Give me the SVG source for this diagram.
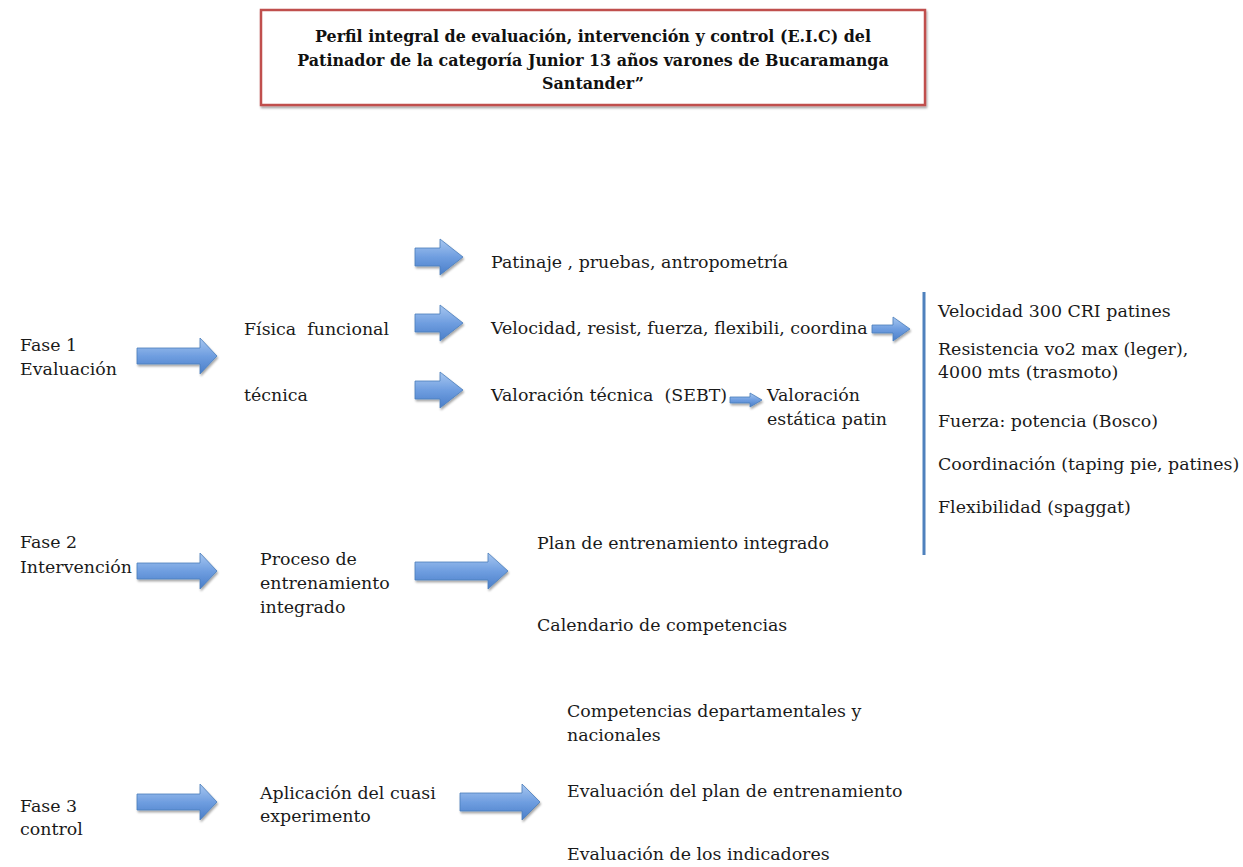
<svg xmlns="http://www.w3.org/2000/svg" width="1243" height="867" viewBox="0 0 1243 867">
<defs>
<linearGradient id="g" x1="0" y1="0" x2="0" y2="1">
<stop offset="0" stop-color="#a8c7f0"/>
<stop offset="0.5" stop-color="#6f9ee0"/>
<stop offset="1" stop-color="#4a7ec9"/>
</linearGradient>
<filter id="sh" x="-20%" y="-30%" width="140%" height="170%">
<feDropShadow dx="1" dy="2" stdDeviation="1.2" flood-color="#000" flood-opacity="0.35"/>
</filter>
<style>
.t{font-family:"DejaVu Serif","Liberation Serif",serif;font-size:17.4px;fill:#1a1a1a;white-space:pre}
.h{font-family:"DejaVu Serif","Liberation Serif",serif;font-size:15.9px;font-weight:bold;fill:#111;text-anchor:middle}
.a{fill:url(#g);stroke:#4a7ebb;stroke-width:0.8;filter:url(#sh)}
</style>
</defs>
<rect width="1243" height="867" fill="#fff"/>
<g id="title">
<rect x="261" y="10" width="664" height="95" fill="#fff" stroke="#c0504d" stroke-width="2.5" filter="url(#sh)"/>
<text class="h" x="593" y="42">Perfil integral de evaluación, intervención y control (E.I.C) del</text>
<text class="h" x="593" y="66">Patinador de la categoría Junior 13 años varones de Bucaramanga</text>
<text class="h" x="593" y="89">Santander”</text>
</g>
<g id="fase1"><text class="t" x="20" y="351">Fase 1</text><text class="t" x="20" y="375">Evaluación</text></g>
<g id="fase2"><text class="t" x="20" y="548">Fase 2</text><text class="t" x="20" y="573">Intervención</text></g>
<g id="fase3"><text class="t" x="20" y="812">Fase 3</text><text class="t" x="20" y="835">control</text></g>
<g id="fisica"><text class="t" x="244" y="335">Física  funcional</text></g>
<g id="tecnica"><text class="t" x="244" y="401">técnica</text></g>
<g id="patinaje"><text class="t" x="491" y="268">Patinaje , pruebas, antropometría</text></g>
<g id="velocidad"><text class="t" x="491" y="334">Velocidad, resist, fuerza, flexibili, coordina</text></g>
<g id="valtec"><text class="t" x="491" y="401">Valoración técnica  (SEBT)</text></g>
<g id="valest"><text class="t" x="767" y="401">Valoración</text><text class="t" x="767" y="425">estática patin</text></g>
<g id="pruebas">
<text class="t" x="938" y="317">Velocidad 300 CRI patines</text>
<text class="t" x="938" y="355">Resistencia vo2 max (leger),</text>
<text class="t" x="938" y="378">4000 mts (trasmoto)</text>
<text class="t" x="938" y="427">Fuerza: potencia (Bosco)</text>
<text class="t" x="938" y="470">Coordinación (taping pie, patines)</text>
<text class="t" x="938" y="513">Flexibilidad (spaggat)</text>
</g>
<g id="proceso"><text class="t" x="260" y="565">Proceso de</text><text class="t" x="260" y="589">entrenamiento</text><text class="t" x="260" y="613">integrado</text></g>
<g id="plan"><text class="t" x="537" y="549">Plan de entrenamiento integrado</text></g>
<g id="calendario"><text class="t" x="537" y="631">Calendario de competencias</text></g>
<g id="aplicacion"><text class="t" x="260" y="799">Aplicación del cuasi</text><text class="t" x="260" y="822">experimento</text></g>
<g id="competencias"><text class="t" x="567" y="717">Competencias departamentales y</text><text class="t" x="567" y="741">nacionales</text></g>
<g id="evalplan"><text class="t" x="567" y="797">Evaluación del plan de entrenamiento</text></g>
<g id="evalind"><text class="t" x="567" y="860">Evaluación de los indicadores</text></g>
<g id="connectors">
<polygon class="a" points="137,348 200,348 200,338 217,356 200,374 200,364 137,364"/>
<polygon class="a" points="137,563 200,563 200,553 217,571 200,589 200,579 137,579"/>
<polygon class="a" points="137,794 200,794 200,784 217,802 200,820 200,810 137,810"/>
<polygon class="a" points="415,248 440,248 440,239 463,257 440,275 440,266 415,266"/>
<polygon class="a" points="415,314 440,314 440,305 463,323 440,341 440,332 415,332"/>
<polygon class="a" points="415,381 440,381 440,372 463,390 440,408 440,399 415,399"/>
<polygon class="a" points="415,562 488,562 488,553 508,571 488,589 488,580 415,580"/>
<polygon class="a" points="460,793 522,793 522,784 540,802 522,820 522,811 460,811"/>
<polygon class="a" points="872,325 893,325 893,317 910,329 893,341 893,333 872,333"/>
<polygon class="a" points="730,397 750,397 750,393 762,400 750,407 750,403 730,403"/>
<line x1="924" y1="292" x2="924" y2="555" stroke="#4f81bd" stroke-width="3"/>
</g>
</svg>
